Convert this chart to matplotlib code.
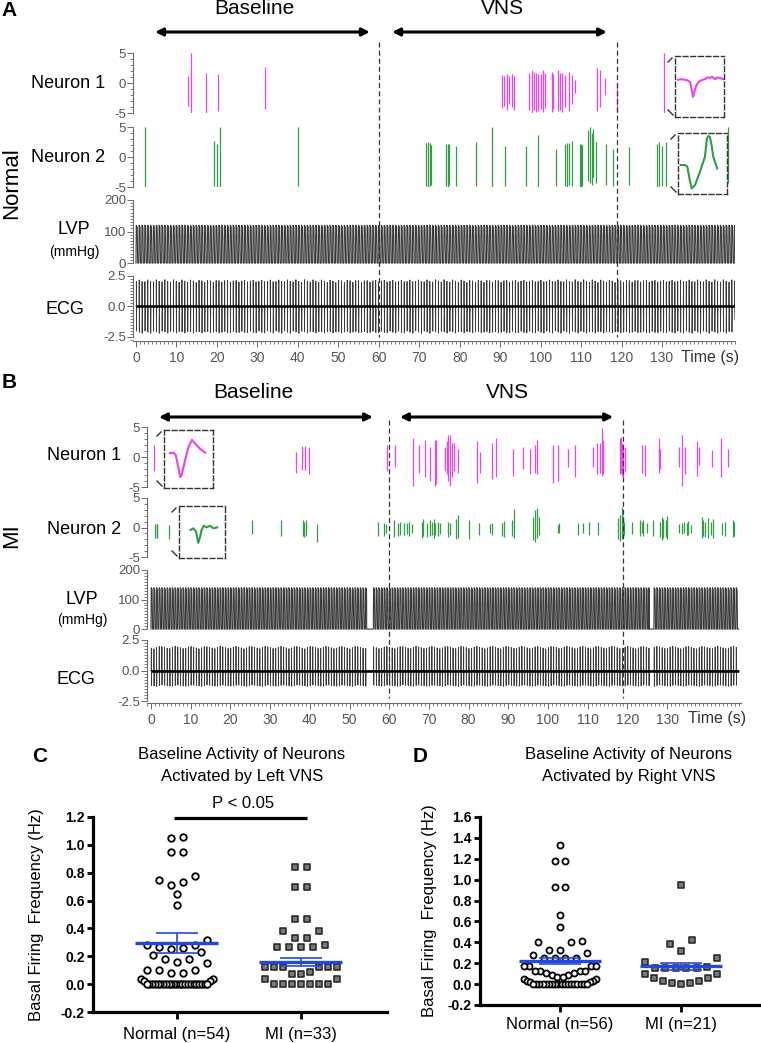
import numpy as np
import matplotlib
matplotlib.use('Agg')
import matplotlib.pyplot as plt
from matplotlib.ticker import MultipleLocator, FixedLocator, FormatStrFormatter
from matplotlib.lines import Line2D

plt.rcParams['font.family'] = ['Liberation Sans', 'DejaVu Sans']
plt.rcParams['axes.unicode_minus'] = False

W, H = 761, 1043
NARROW = ['Liberation Sans Narrow', 'Liberation Sans']
MAGENTA = '#f040f0'
GREEN = '#2f9e44'
BLUE = '#2448dc'
AXGREY = '#6a6a6a'

# ---------------------------------------------------------------------------
# Datos de los registros (A = Normal, B = MI); tiempo en s, amplitud en unidades del eje
# ---------------------------------------------------------------------------
BASELINE_END = 60
VNS_END = 119

A_N1_T = [12.9, 13.7, 17.4, 20.3, 32.0, 90.4, 91.0, 91.6, 92.3, 92.9, 93.4,
          97.1, 97.8, 98.4, 98.8, 99.4, 100.0, 100.7, 101.2, 102.7, 103.1, 104.4,
          104.8, 105.4, 106.1, 106.9, 107.7, 108.5, 114.0, 114.7, 115.9, 119.0, 130.6]
A_N1_TOP = [1.2, 5.0, 1.7, 1.5, 2.6, 1.3, 1.1, 1.5, 1.2, 1.5, 1.2,
            1.6, 2.2, 1.9, 1.6, 1.5, 1.5, 2.2, 1.7, 1.9, 1.5, 2.2,
            1.6, 1.7, 1.3, 1.9, 1.3, 0.5, 2.5, 2.1, 0.8, 0.0, 5.0]
A_N1_BOT = [-3.9, -5.0, -5.0, -4.7, -4.3, -4.2, -3.9, -4.5, -3.5, -4.0, -4.5,
            -4.5, -5.0, -4.5, -4.8, -4.6, -4.3, -4.8, -4.2, -4.8, -4.3, -4.7,
            -4.5, -4.8, -4.0, -4.6, -3.5, -1.7, -4.6, -4.0, -2.0, -5.0, -5.0]

A_N2_T = [2.2, 19.4, 20.1, 20.8, 40.0, 71.7, 72.1, 72.7, 72.9, 76.5, 77.0, 77.4, 79.2,
          84.1, 88.1, 91.2, 96.5, 99.3, 103.9, 106.0, 106.5, 106.9, 107.7,
          109.7, 110.0, 110.2, 111.8, 112.2, 112.7, 113.0, 113.8, 116.2, 117.8, 121.9,
          128.7, 129.3, 129.9, 130.9, 146.4]
A_N2_TOP = [5.0, 2.6, 2.1, 5.0, 5.0, 2.4, 2.5, 2.3, 2.0, 2.2, 2.2, 2.1, 1.9,
            2.5, 5.0, 1.9, 1.9, 3.6, 1.4, 2.1, 2.3, 2.3, 2.6,
            2.2, 2.2, 2.0, 4.5, 5.0, 4.0, 4.7, 2.5, 2.2, 1.4, 1.7,
            2.2, 2.5, 1.9, 2.5, 5.0]
A_N2_BOT = [-5.0, -4.8, -5.0, -5.0, -4.8, -4.9, -5.0, -4.9, -4.7, -4.9, -5.0, -4.6, -4.9,
            -4.9, -5.0, -4.9, -4.8, -5.0, -4.9, -4.8, -5.0, -4.6, -4.8,
            -5.0, -5.0, -4.9, -4.0, -4.4, -4.6, -3.3, -4.4, -4.7, -4.9, -4.6,
            -5.0, -4.8, -4.9, -4.9, -4.4]

B_N1_T = [0.8, 36.5, 38.0, 38.8, 39.9, 59.4, 61.5, 66.1, 67.6, 69.0, 70.3, 71.5, 71.8,
          74.1, 74.5, 74.9, 75.3, 75.7, 76.3, 77.4, 82.0, 82.9, 86.0, 86.9, 91.3,
          93.8, 95.5, 96.7, 97.2, 101.2, 102.6, 105.1, 106.8, 111.4, 112.3, 113.1,
          113.5, 113.8, 118.0, 118.3, 118.6, 119.0, 119.4, 123.6, 124.4, 128.0, 128.2,
          133.1, 133.7, 134.5, 137.5, 137.9, 141.2, 143.5, 145.2]
B_N1_TOP = [2.0, 0.9, 1.8, 1.8, 1.7, 2.0, 2.0, 3.1, 2.0, 2.8, 1.7, 2.8, 2.8,
            1.7, 2.6, 3.7, 3.7, 2.3, 2.3, 1.4, 2.6, 0.9, 2.3, 3.1, 1.4,
            1.7, 1.4, 2.0, 2.8, 2.0, 2.0, 1.4, 2.0, 1.7, 2.3, 2.3,
            4.8, 2.8, 3.1, 3.4, 2.3, 1.7, 1.7, 2.0, 2.0, 3.1, 1.4,
            1.7, 3.7, 1.7, 2.6, 1.7, 1.1, 3.1, 1.4]
B_N1_BOT = [-2.3, -2.6, -2.2, -2.2, -2.8, -2.3, -1.7, -4.8, -2.6, -3.4, -4.0, -4.8, -4.5,
            -2.3, -2.8, -4.0, -4.8, -3.4, -2.3, -2.6, -4.3, -2.6, -3.7, -3.4, -3.1,
            -2.0, -2.8, -2.6, -2.8, -4.3, -4.0, -1.7, -3.4, -1.7, -2.8, -2.6,
            -3.1, -2.8, -2.8, -2.6, -3.1, -3.4, -2.3, -2.6, -3.1, -2.6, -2.0,
            -1.7, -4.8, -2.8, -3.1, -1.4, -1.7, -3.4, -1.7]

B_N2_T = [1.0, 1.4, 1.6, 4.6, 25.4, 32.7, 38.2, 38.6, 39.0, 41.9, 57.3, 58.7, 59.2,
          61.2, 62.3, 62.7, 63.6, 64.4, 65.1, 65.7, 68.2, 68.6, 69.5, 70.3, 70.8,
          71.2, 71.6, 72.4, 72.8, 74.9, 75.3, 76.8, 77.2, 80.2, 82.7, 85.4, 86.0,
          88.3, 88.9, 90.9, 91.4, 96.3, 96.7, 97.2, 97.6, 102.6, 102.8, 107.6, 108.9,
          110.2, 112.7, 117.7, 118.1, 118.6, 118.8, 119.1, 121.1, 123.2, 123.6, 124.0,
          124.9, 126.5, 128.2, 128.6, 129.0, 129.7, 130.0, 133.1, 133.7, 134.3, 134.9,
          135.3, 135.9, 138.7, 139.1, 139.5, 140.4, 141.0, 141.5, 143.7, 144.6, 146.5, 146.9]
B_N2_TOP = [0.6, 0.6, 0.6, 0.4, 1.2, 1.2, 1.2, 1.0, 1.2, 0.6, 0.9, 0.8, 0.6,
            1.3, 0.8, 0.9, 0.7, 0.8, 0.9, 0.6, 1.0, 1.4, 0.8, 1.2, 0.9,
            1.5, 0.7, 1.0, 0.8, 1.0, 0.8, 1.4, 2.2, 1.2, 0.8, 0.6, 0.8,
            0.8, 1.1, 1.3, 3.1, 1.7, 3.0, 3.3, 1.8, 0.5, 0.8, 0.8, 0.8,
            1.0, 1.0, 1.6, 2.2, 3.5, 2.0, 1.0, 0.9, 1.3, 1.0, 1.2,
            0.7, 1.2, 1.0, 1.7, 1.4, 1.3, 1.9, 0.6, 0.8, 0.9, 0.7,
            1.1, 0.5, 1.8, 1.2, 1.0, 1.6, 1.0, 1.5, 0.8, 1.0, 1.2, 1.0]
B_N2_BOT = [-1.7, -1.7, -1.7, -1.9, -1.1, -1.4, -1.4, -1.6, -1.4, -2.5, -1.4, -1.4, -1.0,
            -1.6, -1.5, -1.2, -1.3, -1.1, -1.5, -1.0, -1.8, -1.5, -1.6, -1.4, -1.3,
            -1.7, -1.2, -1.5, -1.1, -1.6, -1.3, -1.9, -1.7, -1.9, -1.2, -1.0, -1.2,
            -1.4, -1.6, -1.5, -1.8, -2.2, -2.5, -1.8, -1.3, -0.9, -1.0, -1.3, -1.0,
            -1.3, -1.3, -2.0, -2.3, -2.0, -1.6, -1.2, -1.1, -1.4, -1.0, -1.5,
            -1.0, -1.4, -1.6, -2.1, -1.8, -1.6, -2.0, -1.0, -1.1, -1.0, -1.2,
            -1.2, -0.9, -1.8, -1.4, -1.6, -1.8, -1.3, -1.8, -1.2, -1.4, -1.6, -1.4]

# latido tipo (fase del ciclo -> fracción de la amplitud)
LVP_PHASE = [0.0, 0.05, 0.10, 0.42, 0.50, 0.55, 1.0]
LVP_LEVEL = [0.0, 0.80, 1.0, 0.96, 0.40, 0.0, 0.0]
ECG_PHASE = [0.0, 0.10, 0.13, 0.17, 0.21, 1.0]
ECG_LEVEL = [0.0, 0.0, 1.0, -1.0, 0.0, 0.0]

A_RATE, B_RATE = 1.42, 1.50          # latidos visibles por segundo
A_LVP_PEAK, B_LVP_PEAK = 120, 140    # mmHg
A_ECG_R, A_ECG_S = 2.2, -2.2
B_ECG_R, B_ECG_S = 2.0, -1.3
B_GAPS = [(54.3, 55.8), (125.5, 126.4)]
REC_END = 148.0

# formas de onda ampliadas (recuadros)
INS_A1_X = [0.06, 0.12, 0.2, 0.26, 0.31, 0.34, 0.37, 0.40, 0.43, 0.47, 0.51, 0.56, 0.61, 0.66, 0.71, 0.76, 0.82, 0.87, 0.92, 0.98]
INS_A1_Y = [0.61, 0.62, 0.61, 0.60, 0.57, 0.45, 0.33, 0.42, 0.51, 0.56, 0.59, 0.61, 0.62, 0.65, 0.64, 0.66, 0.62, 0.65, 0.64, 0.62]
INS_A2_X = [0.06, 0.14, 0.19, 0.24, 0.28, 0.35, 0.45, 0.55, 0.59, 0.62, 0.65, 0.69, 0.72, 0.80]
INS_A2_Y = [0.475, 0.475, 0.45, 0.23, 0.09, 0.15, 0.37, 0.61, 0.91, 0.95, 0.94, 0.78, 0.61, 0.42]
INS_B1_X = [0.12, 0.19, 0.24, 0.29, 0.33, 0.36, 0.43, 0.50, 0.57, 0.63, 0.73, 0.84]
INS_B1_Y = [0.60, 0.61, 0.57, 0.37, 0.19, 0.22, 0.48, 0.71, 0.83, 0.77, 0.68, 0.61]
INS_B2_X = [0.25, 0.31, 0.37, 0.42, 0.46, 0.49, 0.54, 0.60, 0.67, 0.75, 0.83]
INS_B2_Y = [0.54, 0.57, 0.51, 0.29, 0.41, 0.54, 0.62, 0.59, 0.62, 0.57, 0.59]

# ---------------------------------------------------------------------------
# Datos de actividad basal (C y D), Hz
# ---------------------------------------------------------------------------
C_LABELS = ['Normal (n=54)', 'MI (n=33)']
C_NORMAL = [1.06, 1.05, 0.95, 0.95, 0.78, 0.75, 0.73, 0.71, 0.65, 0.57, 0.32,
            0.28, 0.27, 0.25, 0.26, 0.28, 0.23, 0.21,
            0.18, 0.18, 0.16, 0.15, 0.10, 0.10, 0.10, 0.08, 0.08,
            0.04, 0.04, 0.02, 0.02] + [0.0] * 23
C_MI = [0.84, 0.84, 0.70, 0.70, 0.47, 0.47, 0.38, 0.38, 0.33, 0.33,
        0.28, 0.27, 0.27, 0.27, 0.27, 0.12, 0.12, 0.12, 0.12, 0.12, 0.12,
        0.09, 0.07, 0.07, 0.04, 0.04] + [0.0] * 7
C_MEAN = [0.297, 0.157]
C_SEM = [0.070, 0.028]

D_LABELS = ['Normal (n=56)', 'MI (n=21)']
D_NORMAL = [1.33, 1.18, 1.18, 0.93, 0.93, 0.66, 0.55, 0.40, 0.40, 0.41, 0.33, 0.33, 0.30, 0.28,
            0.25, 0.25, 0.25, 0.25, 0.17, 0.17, 0.17, 0.17, 0.13, 0.13, 0.13, 0.13,
            0.11, 0.11, 0.09, 0.09, 0.07, 0.07, 0.05, 0.05, 0.03, 0.03, 0.02, 0.02] + [0.0] * 18
D_MI = [0.95, 0.42, 0.38, 0.32, 0.25, 0.21, 0.15, 0.15, 0.15, 0.15, 0.15, 0.16,
        0.10, 0.10, 0.06, 0.06, 0.03, 0.03, 0.01, 0.01, 0.0]
D_MEAN = [0.22, 0.17]
D_SEM = [0.030, 0.035]

# ---------------------------------------------------------------------------
fig = plt.figure(figsize=(W / 100, H / 100), dpi=100)


def add_ax(left, top, right, bottom):
    return fig.add_axes([left / W, 1 - bottom / H, (right - left) / W, (bottom - top) / H])


def ftext(x, y, s, **kw):
    kw.setdefault('ha', 'center')
    kw.setdefault('va', 'center')
    fig.text(x / W, 1 - y / H, s, **kw)


def fline(xs, ys, **kw):
    fig.add_artist(Line2D([x / W for x in xs], [1 - y / H for y in ys], **kw))


def trace_axis(ax, xlim, ylim, major, minor, fmt, show_x=False):
    ax.set_xlim(*xlim)
    ax.set_ylim(*ylim)
    ax.patch.set_alpha(0)
    for s in ['top', 'right']:
        ax.spines[s].set_visible(False)
    ax.spines['left'].set_color(AXGREY)
    ax.spines['left'].set_linewidth(0.8)
    ax.spines['left'].set_bounds(major[0], major[-1])
    ax.yaxis.set_major_locator(FixedLocator(major))
    ax.yaxis.set_minor_locator(MultipleLocator(minor))
    ax.yaxis.set_major_formatter(FormatStrFormatter(fmt))
    ax.tick_params(axis='y', which='major', length=4, width=0.7, color=AXGREY, pad=1,
                   labelsize=9.5, labelcolor='#555555', labelfontfamily=NARROW)
    ax.tick_params(axis='y', which='minor', length=2.2, width=0.6, color=AXGREY)
    if show_x:
        ax.spines['bottom'].set_color(AXGREY)
        ax.spines['bottom'].set_linewidth(0.8)
        ax.xaxis.set_major_locator(FixedLocator(np.arange(0, 131, 10)))
        ax.xaxis.set_minor_locator(MultipleLocator(1))
        ax.tick_params(axis='x', which='major', length=4, width=0.7, color=AXGREY, pad=3,
                       labelsize=10, labelcolor='#555555', labelfontfamily=NARROW)
        ax.tick_params(axis='x', which='minor', length=2.2, width=0.6, color=AXGREY)
    else:
        ax.spines['bottom'].set_visible(False)
        ax.tick_params(axis='x', which='both', bottom=False, labelbottom=False)


def beat_trace(t, rate, phase, level, gaps):
    y = np.interp((t * rate) % 1.0, phase, level)
    for g0, g1 in gaps:
        y[(t >= g0) & (t <= g1)] = 0.0
    return y


def draw_inset(box, xs, ys, color):
    left, top, right, bottom = box
    ax = add_ax(left, top, right, bottom)
    ax.plot(xs, ys, color=color, lw=1.5, solid_joinstyle='round')
    ax.set_xlim(0, 1)
    ax.set_ylim(0, 1)
    ax.set_xticks([])
    ax.set_yticks([])
    for sp in ax.spines.values():
        sp.set_linestyle((0, (3.5, 2)))
        sp.set_color('#333333')
        sp.set_linewidth(1.0)
    fline([left - 7, left - 3], [top + 6, top + 2], color='#333333', lw=1.0)
    fline([left - 7, left - 2], [bottom - 7, bottom - 2], color='#333333', lw=1.0)


def draw_recording(lay, n1, n2, rate, lvp_peak, ecg_r, ecg_s, gaps, group, txt):
    xl = lay['xlim']
    left, right = lay['x']
    t = np.linspace(0, REC_END, 40000)

    ax1 = add_ax(left, lay['n1'][0], right, lay['n1'][1])
    trace_axis(ax1, xl, (-5, 5), [-5, 0, 5], 1, '%d')
    ax1.vlines(n1[0], n1[2], n1[1], color=MAGENTA, lw=0.9)

    ax2 = add_ax(left, lay['n2'][0], right, lay['n2'][1])
    trace_axis(ax2, xl, (-5, 5), [-5, 0, 5], 1, '%d')
    ax2.vlines(n2[0], n2[2], n2[1], color=GREEN, lw=0.9)

    ax3 = add_ax(left, lay['lvp'][0], right, lay['lvp'][1])
    trace_axis(ax3, xl, (-3, 200), [0, 100, 200], 10, '%d')
    lvp = lvp_peak * beat_trace(t, rate, LVP_PHASE, LVP_LEVEL, gaps)
    ax3.plot(t, lvp, color='#3a3a3a', lw=0.8)

    ax4 = add_ax(left, lay['ecg'][0], right, lay['ecg'][1])
    trace_axis(ax4, xl, lay['ecg_ylim'], [-2.5, 0, 2.5], 0.25, '%.1f', show_x=True)
    e = beat_trace(t, rate, ECG_PHASE, ECG_LEVEL, gaps)
    ecg = np.where(e > 0, e * ecg_r, e * abs(ecg_s))
    ax4.plot(t, ecg, color='#3a3a3a', lw=0.6)
    ax4.hlines(0, t[0], t[-1], color='black', lw=1.8)

    # capa superior: líneas discontinuas, flechas y títulos
    ov = add_ax(left, lay['ov'][0], right, lay['ov'][1])
    ov.set_xlim(*xl)
    ov.set_ylim(lay['ov'][1], lay['ov'][0])
    ov.axis('off')
    ov.vlines([BASELINE_END, VNS_END], lay['dash'][0], lay['dash'][1],
              colors='#333333', linestyles=(0, (4, 2.5)), lw=0.9)
    for (a0, a1), (tx, label) in zip(lay['arrows'], txt):
        ov.annotate('', xy=(a1, lay['arrow_y']), xytext=(a0, lay['arrow_y']),
                    arrowprops=dict(arrowstyle='<|-|>', lw=2.2, color='black',
                                    mutation_scale=11, shrinkA=0, shrinkB=0))
        ov.text(tx, lay['title_y'], label, ha='center', va='center', fontsize=15)

    # rótulos de filas
    lx = lay['lab']
    ftext(lx[0], lay['lab_y'][0], 'Neuron 1', fontsize=13)
    ftext(lx[0], lay['lab_y'][1], 'Neuron 2', fontsize=13)
    ftext(lx[1], lay['lab_y'][2], 'LVP', fontsize=13)
    ftext(lx[1], lay['lab_y'][3], '(mmHg)', fontsize=10)
    ftext(lx[2], lay['lab_y'][4], 'ECG', fontsize=13)
    ftext(lay['time'][0], lay['time'][1], 'Time (s)', fontsize=11.5, family=NARROW, color='#333333')
    ftext(12, lay['group_y'], group, fontsize=16, rotation=90)


layout_a = dict(x=(133, 735), xlim=(-0.74, 148.05), n1=(53, 113), n2=(127, 187),
                lvp=(200, 264), ecg=(276, 341), ecg_ylim=(-2.83, 2.5), ov=(0, 345),
                dash=(42, 337), arrow_y=32, title_y=9,
                arrows=[(4.7, 57.8), (63.3, 116.4)], lab=(68, 74, 65),
                lab_y=(83, 157, 229, 252, 309), time=(710, 357), group_y=183)
layout_b = dict(x=(147, 741), xlim=(-1.0, 148.6), n1=(427, 487), n2=(498, 557),
                lvp=(570, 630), ecg=(640, 703), ecg_ylim=(-2.66, 2.5), ov=(370, 706),
                dash=(420, 698), arrow_y=417, title_y=393,
                arrows=[(2.0, 55.9), (62.7, 116.4)], lab=(84, 82, 76),
                lab_y=(456, 530, 599, 620, 680), time=(717, 719), group_y=536)

draw_recording(layout_a, (A_N1_T, A_N1_TOP, A_N1_BOT), (A_N2_T, A_N2_TOP, A_N2_BOT),
               A_RATE, A_LVP_PEAK, A_ECG_R, A_ECG_S, [], 'Normal',
               [(29.2, 'Baseline'), (90.7, 'VNS')])
draw_recording(layout_b, (B_N1_T, B_N1_TOP, B_N1_BOT), (B_N2_T, B_N2_TOP, B_N2_BOT),
               B_RATE, B_LVP_PEAK, B_ECG_R, B_ECG_S, B_GAPS, 'MI',
               [(25.9, 'Baseline'), (89.9, 'VNS')])

draw_inset((675, 56, 724, 117), INS_A1_X, INS_A1_Y, MAGENTA)
draw_inset((678, 133, 727, 194), INS_A2_X, INS_A2_Y, GREEN)
draw_inset((164, 430, 213, 488), INS_B1_X, INS_B1_Y, MAGENTA)
draw_inset((179, 506, 225, 558), INS_B2_X, INS_B2_Y, GREEN)

ftext(9, 10, 'A', fontsize=15, fontweight='bold')
ftext(9, 382, 'B', fontsize=15, fontweight='bold')


# ---------------------------------------------------------------------------
# C y D: diagramas de puntos
# ---------------------------------------------------------------------------
def row_swarm_x(values, center, row_h, step, half_width):
    """Agrupa los valores en filas (de arriba abajo) y las reparte en horizontal."""
    v = np.asarray(values, float)
    x = np.full(len(v), float(center))
    order = np.argsort(-v, kind='stable')
    rows, cur = [], [order[0]]
    for i in order[1:]:
        if v[cur[0]] - v[i] <= row_h + 1e-9:
            cur.append(i)
        else:
            rows.append(cur)
            cur = [i]
    rows.append(cur)
    for idx in rows:
        idx = np.array(idx)[np.argsort(v[idx], kind='stable')]
        n = len(idx)
        s = step if n < 2 or (n - 1) * step <= 2 * half_width else 2 * half_width / (n - 1)
        slots = (np.arange(n) - (n - 1) / 2) * s
        slots = slots[np.argsort(np.abs(slots), kind='stable')]
        x[idx] = center + slots
    return x


def dot_panel(box, xlim, ylim, yticks, normal, mi, means, sems, labels, row_h, step, half_w,
              msize, ylab_x, xpad):
    ax = add_ax(*box)
    ax.set_xlim(*xlim)
    ax.set_ylim(*ylim)
    for s in ['top', 'right']:
        ax.spines[s].set_visible(False)
    for s in ['left', 'bottom']:
        ax.spines[s].set_linewidth(2.3)
    ax.set_yticks(yticks)
    ax.yaxis.set_major_formatter(FormatStrFormatter('%.1f'))
    ax.set_xticks([0, 1])
    ax.set_xticklabels(labels, fontsize=12)
    ax.tick_params(axis='y', length=4, width=2, pad=2, labelsize=10)
    ax.tick_params(axis='x', length=5, width=2, pad=xpad)
    for lbl in ax.get_yticklabels():
        lbl.set_fontweight('bold')
    ax.set_ylabel('Basal Firing  Frequency (Hz)', fontsize=12)
    ax.yaxis.set_label_coords(ylab_x, 0.5)

    xn = row_swarm_x(normal, 0, row_h, step, half_w)
    xm = row_swarm_x(mi, 1, row_h, step, half_w)
    ax.scatter(xn, normal, s=msize, marker='o', facecolor='white', edgecolor='black',
               linewidths=1.3, zorder=3, clip_on=False)
    ax.scatter(xm, mi, s=msize * 1.15, marker='s', facecolor='#7a7a7a', edgecolor='#202020',
               linewidths=1.1, zorder=3, clip_on=False)
    for pos, m, se in zip([0, 1], means, sems):
        ax.hlines(m, pos - 0.335, pos + 0.335, color=BLUE, lw=2.4, zorder=4)
        ax.vlines(pos, m - se, m + se, color=BLUE, lw=1.2, zorder=4)
        ax.hlines([m - se, m + se], pos - 0.17, pos + 0.17, color=BLUE, lw=1.2, zorder=4)
    return ax


axc = dot_panel((93, 817, 387, 1012), (-0.677, 1.694), (-0.2, 1.2),
                np.round(np.arange(-0.2, 1.21, 0.2), 1), C_NORMAL, C_MI, C_MEAN, C_SEM,
                C_LABELS, 0.075, 0.097, 0.29, 22, -0.168, 6)
axc.plot([-0.02, 1.05], [1.19, 1.19], color='black', lw=2.3, clip_on=False, solid_capstyle='butt')

axd = dot_panel((480, 817, 760, 1005), (-0.661, 1.653), (-0.2, 1.6),
                np.round(np.arange(-0.2, 1.61, 0.2), 1), D_NORMAL, D_MI, D_MEAN, D_SEM,
                D_LABELS, 0.105, 0.09, 0.30, 19, -0.154, 4)

ftext(40, 757, 'C', fontsize=15, fontweight='bold')
ftext(420, 757, 'D', fontsize=15, fontweight='bold')
ftext(242, 755, 'Baseline Activity of Neurons', fontsize=12)
ftext(242, 776, 'Activated by Left VNS', fontsize=12)
ftext(243, 803, 'P < 0.05', fontsize=12)
ftext(629, 755, 'Baseline Activity of Neurons', fontsize=12)
ftext(629, 776, 'Activated by Right VNS', fontsize=12)

fig.savefig('out.png', dpi=100)
